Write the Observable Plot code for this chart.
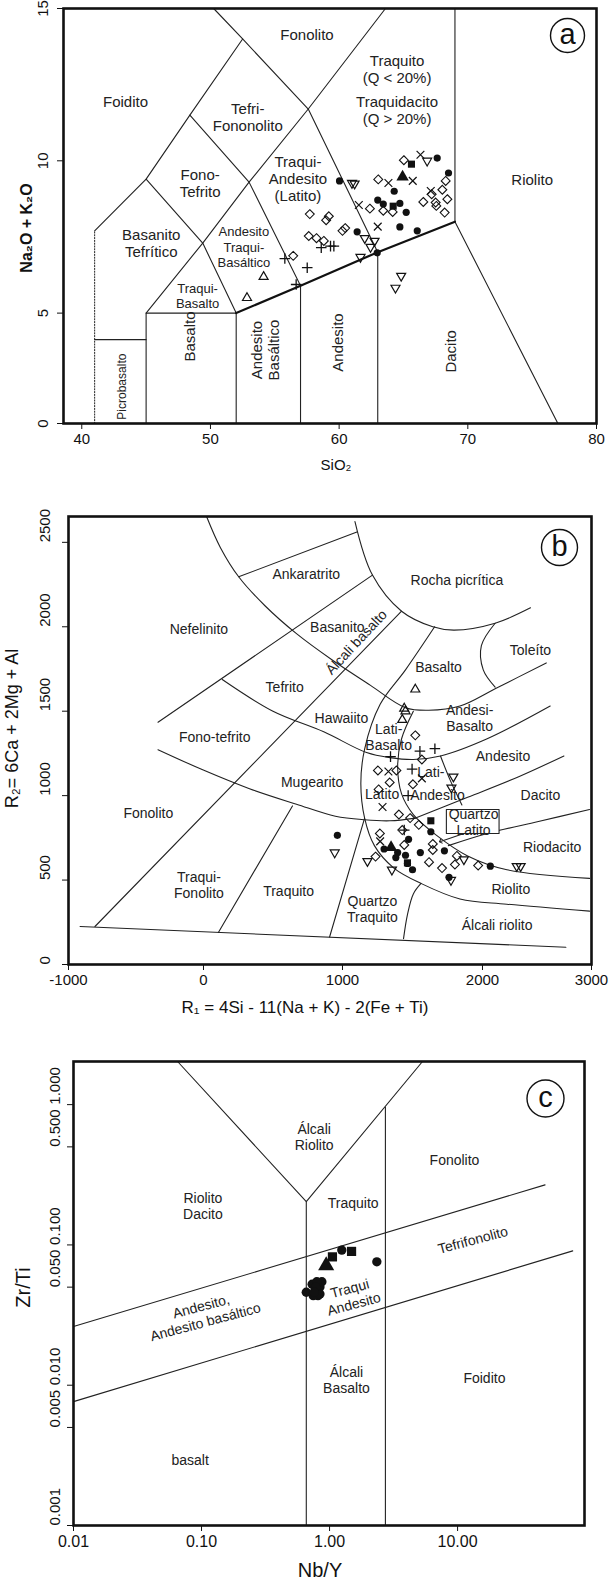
<!DOCTYPE html>
<html><head><meta charset="utf-8">
<script src="https://cdn.jsdelivr.net/npm/d3@7"></script>
<script src="https://cdn.jsdelivr.net/npm/@observablehq/plot@0.6"></script>
<style>
body{margin:0;background:#fff;width:612px;}
#charts svg{display:block;}
</style></head><body><div id="charts"></div>
<script>
const FONT = "Liberation Sans, Arial, Helvetica, sans-serif";

// ---------- Panel a : TAS ----------
const tasXTicks = [40, 50, 60, 70, 80];
const tasYTicks = [0, 5, 10, 15];
const tasLines = [
  [[41,7.7],[45,9.4],[48.4,11.5],[52.5,14],[50.25,15]],
  [[45,5],[49.4,7.3],[53,9.3],[57.6,11.7],[63.6,15]],
  [[45,9.4],[49.4,7.3],[52,5]],
  [[48.4,11.5],[53,9.3],[57,5.9]],
  [[52.5,14],[57.6,11.7],[63,7]],
  [[45,0],[45,5],[52,5],[52,0]],
  [[41,3.8],[45,3.8]],
  [[57,0],[57,5.9]],
  [[63,0],[63,7]],
  [[77,0],[69,8],[69,15]]
];
const tasAlkaline = [[52,5],[57,5.9],[63,7],[69,8]];
const tasDotted = [[41,0],[41,7.7]];
const tasLabels = [
  ["Fonolito",57.5,14.15],["Foidito",43.4,11.95],["Traquito\n(Q < 20%)",64.5,13.0],
  ["Traquidacito\n(Q > 20%)",64.5,11.65],["Tefri-\nFononolito",52.9,11.44],["Fono-\nTefrito",49.2,9.27],
  ["Traqui-\nAndesito\n(Latito)",56.8,9.43],["Riolito",75.0,9.37],["Basanito\nTefrítico",45.4,7.3]
];
const tasLabelsSmall = [["Andesito\nTraqui-\nBasáltico",52.6,7.18],["Traqui-\nBasalto",49.0,5.58]];
const tasLabelsVertical = [["Basalto",48.4,3.94],["Andesito\nBasáltico",54.25,3.33],["Andesito",59.9,3.67],["Dacito",68.7,3.27]];
const tasLabelsVerticalSmall = [["Picrobasalto",43.1,1.67]];
const aFilledCircles = [[60.03,9.34],[67.62,10.09],[68.5,9.6],[64.28,9.0],[63.0,8.71],[63.43,8.58],[64.72,8.6],[65.21,8.31],[64.72,7.83],[66.07,7.7],[61.4,7.67],[62.96,6.98]];
const aSquares = [[65.62,9.89],[64.2,8.51]];
const aTriangles = [[64.93,9.47]];
const aDiamonds = [[65.03,10.02],[63.04,9.39],[57.72,8.25],[58.99,8.05],[59.2,8.18],[57.64,7.53],[58.24,7.46],[58.81,7.37],[60.26,7.7],[60.47,7.79],[56.43,6.88],[62.39,8.43],[63.43,8.36],[64.16,8.32],[68.28,9.34],[68.02,9.05],[68.41,8.74],[66.54,8.65],[67.19,8.9],[67.5,8.63],[67.55,8.52],[68.2,8.3]];
const aTimes = [[66.32,10.2],[65.72,9.34],[63.83,9.27],[61.53,8.55],[63.0,7.84],[67.12,9.01]];
const aPlus = [[58.61,7.15],[59.33,7.2],[59.59,7.2],[55.78,6.79],[57.52,6.49],[56.66,5.94]];
const aTriDown = [[61.0,9.27],[61.2,9.25],[66.84,10.0],[61.99,7.46],[62.75,7.37],[62.44,7.17],[61.66,6.84],[64.82,6.22],[64.38,5.83]];
const aTriUp = [[54.13,6.19],[52.84,5.5]];

// ---------- Panel b : R1-R2 ----------
const rXTicks = [-1000, 0, 1000, 2000, 3000];
const rYTicks = [0, 500, 1000, 1500, 2000, 2500];
const rLines = [
  [[-914,225],[2765,102]],
  [[22,2653],[121,2470],[253,2296],[444,2123],[669,1959],[921,1806],[1200,1653],[1450,1521],[1617,1506],[1839,1531],[2116,1633],[2585,1786]],
  [[253,2296],[1103,2561]],
  [[1089,2623],[1214,2306],[1422,2092],[1645,2000],[1797,1980],[2116,2021],[2440,2112]],
  [[2116,2021],[1992,1888],[2007,1745],[2116,1643]],
  [[-337,1435],[1214,2306]],
  [[-804,225],[1422,2092]],
  [[1658,2000],[1450,1745],[1269,1541],[1158,1276],[1131,1072],[1158,867],[1228,704],[1367,571],[1561,480],[1839,388],[2224,357],[2982,316]],
  [[1506,1500],[1422,1337],[1394,1174],[1422,1010],[1506,888],[1672,765],[1894,643],[2224,561],[2982,510]],
  [[135,1688],[500,1500],[865,1378],[1172,1255],[1339,1225],[1506,1214],[1700,1235],[2043,1337],[2621,1531]],
  [[-337,1272],[-6,1153],[331,1041],[669,949],[949,878],[1158,857],[1339,851],[1522,867]],
  [[1700,1235],[1769,1092],[1853,945]],
  [[1522,867],[1894,990],[2332,1112],[2747,1235]],
  [[1756,704],[2043,776],[2513,847],[2982,918]],
  [[107,190],[640,939]],
  [[907,163],[1158,867]],
  [[1436,153],[1464,296],[1506,418],[1561,480]]
];
const rBox = [[1742,776],[2152,776],[2152,918],[1742,918],[1742,776]];
const rArrow = [[1867,776],[1700,729]];
const rLabels = [
  ["Ankaratrito",739,2312],["Rocha picrítica",1817,2276],["Nefelinito",-34,1990],["Basanito",963,2000],
  ["Toleíto",2440,1863],["Basalto",1686,1761],["Tefrito",584,1643],["Hawaiito",992,1459],
  ["Andesi-\nBasalto",1908,1462],["Fono-tefrito",81,1347],["Lati-\nBasalto",1330,1347],["Andesito",2188,1235],
  ["Lati-",1631,1143],["Mugearito",781,1082],["Latito",1283,1010],["Andesito",1678,1004],["Dacito",2531,1004],
  ["Fonolito",-409,898],["Quartzo\nLatito",1936,845],["Riodacito",2639,694],["Traqui-\nFonolito",-34,470],
  ["Traquito",612,435],["Riolito",2260,449],["Quartzo\nTraquito",1214,332],["Álcali riolito",2134,235]
];
const rLabelsRotated = [["Álcali basalto",1100,1908]];
const bFilledCircles = [[963,765],[1297,684],[1394,663],[1472,741],[1381,633],[1450,647],[1464,598],[1500,561],[1556,663],[1631,786],[1728,673],[1761,516],[2072,582]];
const bSquares = [[1631,851],[1464,602]];
const bTriangles = [[1347,694]];
const bTriDown = [[944,663],[1178,612],[1353,561],[1775,500],[1778,1047],[1792,1112],[1867,622],[2314,582],[2350,582]];
const bTriUp = [[1520,1629],[1441,1516],[1450,1500],[1427,1449]];
const bDiamonds = [[1520,1357],[1567,1214],[1253,1149],[1385,1149],[1337,1078],[1503,1067],[1258,1037],[1403,888],[1483,867],[1545,827],[1267,776],[1427,796],[1441,708],[1645,678],[1645,714],[1236,639],[1618,606],[1711,571],[1803,592],[1969,586],[1817,643]];
const bTimes = [[1286,933],[1328,1143],[1567,1102],[1269,729]];
const bPlus = [[1343,1231],[1553,1263],[1660,1278],[1497,1157],[1469,1000],[1441,796]];

// ---------- Panel c : Zr/Ti vs Nb/Y ----------
const wXTicks = [0.01, 0.1, 1, 10];
const wYTicks = [0.001, 0.005, 0.01, 0.05, 0.1, 0.5, 1];
const wLines = [
  [[0.065,2.03],[0.658,0.2033],[5.32,2.03]],
  [[0.658,0.2033],[0.658,0.001]],
  [[2.73,0.961],[2.73,0.001]],
  [[0.01,0.0262],[48.2,0.268]],
  [[0.01,0.00764],[79.3,0.0907]]
];
const wLabels = [
  ["Álcali\nRiolito",0.758,0.593],["Fonolito",9.46,0.405],["Riolito\nDacito",0.1026,0.19],
  ["Traquito",1.528,0.198],["Álcali\nBasalto",1.355,0.011],["Foidito",16.2,0.0112],["basalt",0.0815,0.00292]
];
const wLabelsRotated = [["Tefrifonolito",13.15,0.109],["Andesito,\nAndesito basáltico",0.103,0.0323],["Traqui\nAndesito",1.49,0.0433]];
const cCircles = [[1.246,0.0919],[2.34,0.0758],[0.658,0.046],[0.731,0.0524],[0.773,0.0479],[0.812,0.0435],[0.841,0.0501],[0.871,0.0546],[0.746,0.0435],[0.795,0.0546],[0.841,0.0447],[0.78,0.05],[0.76,0.046]];
const cSquares = [[1.053,0.0822],[1.485,0.0899]];
const cTriangles = [[0.941,0.0712]];

// ---------- helpers ----------
const rows = lines => lines.flatMap((pts,i)=>pts.map(([x,y])=>({x,y,id:i})));
const triDown = {draw(ctx,size){const s=Math.sqrt(size)*0.6824,t=s/2,u=s*Math.sqrt(3)/2;ctx.moveTo(0,s);ctx.lineTo(u,-t);ctx.lineTo(-u,-t);ctx.closePath();}};
const X = d=>d[0], Y = d=>d[1];
const lab = (arr, o) => Plot.text(arr, {x: d=>d[1], y: d=>d[2], text: d=>d[0], fill: "#222", ...o});
function symbols(s, k = 1) {
  return [
    Plot.dot(s.diamonds || [], {x: X, y: Y, symbol: "diamond2", r: 4*k, stroke: "#111", fill: "none", strokeWidth: 1.1}),
    Plot.dot(s.times || [], {x: X, y: Y, symbol: "times", r: 3.6*k, stroke: "#111", strokeWidth: 1.2}),
    Plot.dot(s.plus || [], {x: X, y: Y, symbol: "plus", r: 3.5*k, stroke: "#111", strokeWidth: 1.3}),
    Plot.dot(s.triDown || [], {x: X, y: Y, symbol: triDown, r: 4.3*k, stroke: "#111", fill: "none", strokeWidth: 1.2}),
    Plot.dot(s.triUp || [], {x: X, y: Y, symbol: "triangle2", r: 4.3*k, stroke: "#111", fill: "none", strokeWidth: 1.2}),
    Plot.dot(s.circles || [], {x: X, y: Y, symbol: "circle", r: 3.6*k, fill: "#111", stroke: "none"}),
    Plot.dot(s.squares || [], {x: X, y: Y, symbol: "square", r: 4*k, fill: "#111", stroke: "none"}),
    Plot.dot(s.triangles || [], {x: X, y: Y, symbol: "triangle", r: 4.6*k, fill: "#111", stroke: "none"})
  ];
}
const badge = (letter, dx, dy, r) => [
  Plot.dot([0], {frameAnchor: "top-right", dx, dy, r, stroke: "#111", fill: "white", strokeWidth: 1.4}),
  Plot.text([letter], {frameAnchor: "top-right", dx, dy: dy - 1, text: d=>d, fontSize: 29, fill: "#111", textAnchor: "middle", lineAnchor: "middle"})
];
const yTickText = (ticks, fmt, dx, fontSize, textAnchor = "middle") =>
  Plot.text(ticks, {y: d=>d, text: fmt, frameAnchor: "left", dx, rotate: -90, textAnchor, lineAnchor: "middle", fontSize, fill: "#111"});
const title = (t, o) => Plot.text([t], {text: d=>d, textAnchor: "middle", lineAnchor: "middle", fill: "#111", ...o});
const style = {fontFamily: FONT, fontSize: "15px", color: "#111", background: "white", overflow: "visible"};
const noLabel = () => "";

// piecewise axes of the original figure (applied to data; axis ticks are placed in the warped space)
const tasYWarp = d3.scaleLinear([0, 5, 15], [0, 3.99, 15]);
const rXWarp = d3.scaleLinear(rXTicks, [-1000, 32.5, 1095.6, 2166.3, 3000]);

// ---------- Panel a ----------
const plotA = Plot.plot({
  width: 612, height: 485, marginLeft: 63, marginRight: 16, marginTop: 8, marginBottom: 62,
  style,
  x: {domain: [38.58, 80], ticks: tasXTicks, tickFormat: d=>String(d), label: null, tickSize: 6, tickPadding: 4},
  y: {domain: [0, 15], transform: tasYWarp, ticks: tasYTicks.map(tasYWarp), tickFormat: noLabel, label: null, tickSize: 6},
  marks: [
    Plot.line(rows(tasLines), {x: "x", y: "y", z: "id", stroke: "#222", strokeWidth: 1.1}),
    Plot.line(tasAlkaline, {x: X, y: Y, stroke: "#111", strokeWidth: 2.2}),
    Plot.line(tasDotted, {x: X, y: Y, stroke: "#222", strokeWidth: 1, strokeDasharray: "1.2,1.6"}),
    lab(tasLabels, {fontSize: 15, lineHeight: 1.13}),
    lab(tasLabelsSmall, {fontSize: 13, lineHeight: 1.18}),
    lab(tasLabelsVertical, {fontSize: 15, rotate: -90, lineHeight: 1.1}),
    lab(tasLabelsVerticalSmall, {fontSize: 12, rotate: -90}),
    ...symbols({circles: aFilledCircles, squares: aSquares, triangles: aTriangles, diamonds: aDiamonds, times: aTimes, plus: aPlus, triDown: aTriDown, triUp: aTriUp}),
    Plot.frame({stroke: "#111", strokeWidth: 2.6}),
    yTickText(tasYTicks, d=>String(d), -20, 15),
    ...badge("a", -29, 27, 17),
    title("Na₂O + K₂O", {frameAnchor: "left", dx: -37, dy: 12, rotate: -90, fontSize: 16, fontWeight: "bold"}),
    title("SiO₂", {frameAnchor: "bottom", dx: 6, dy: 42, fontSize: 15})
  ]
});

// ---------- Panel b ----------
const plotB = Plot.plot({
  width: 612, height: 555, marginLeft: 68, marginRight: 21, marginTop: 31, marginBottom: 76,
  style,
  x: {domain: [-1000, 3000], transform: rXWarp, ticks: rXTicks.map(rXWarp), tickFormat: d=>String(Math.round(rXWarp.invert(d))), label: null, tickSize: 6, tickPadding: 4},
  y: {domain: [0, 2653], ticks: rYTicks, tickFormat: noLabel, label: null, tickSize: 6},
  marks: [
    Plot.line(rows(rLines), {x: "x", y: "y", z: "id", stroke: "#222", strokeWidth: 1.1, curve: "catmull-rom"}),
    Plot.line(rBox, {x: X, y: Y, fill: "white", stroke: "#222", strokeWidth: 1.1}),
    Plot.line(rArrow, {x: X, y: Y, stroke: "#222", strokeWidth: 1.1, markerEnd: "arrow"}),
    lab(rLabels, {fontSize: 14, lineHeight: 1.15}),
    lab(rLabelsRotated, {fontSize: 14, rotate: -47}),
    ...symbols({circles: bFilledCircles, squares: bSquares, triangles: bTriangles, diamonds: bDiamonds, times: bTimes, plus: bPlus, triDown: bTriDown, triUp: bTriUp}),
    Plot.frame({stroke: "#111", strokeWidth: 2.6}),
    yTickText(rYTicks, d=>String(d), -23, 15, "start"),
    ...badge("b", -32, 31, 18),
    title("R₂= 6Ca + 2Mg + Al", {frameAnchor: "left", dx: -56, dy: -12, rotate: -90, fontSize: 18}),
    title("R₁ = 4Si - 11(Na + K) - 2(Fe + Ti)", {frameAnchor: "bottom", dx: -25, dy: 43, fontSize: 17})
  ]
});

// ---------- Panel c ----------
const plotC = Plot.plot({
  width: 612, height: 538, marginLeft: 73, marginRight: 28, marginTop: 21, marginBottom: 53,
  style: {...style, fontSize: "16px"},
  x: {type: "log", domain: [0.01, 98], ticks: wXTicks, tickFormat: d3.format(".2f"), label: null, tickSize: 6, tickPadding: 4},
  y: {type: "log", domain: [0.001, 2.03], ticks: wYTicks, tickFormat: noLabel, label: null, tickSize: 6},
  marks: [
    Plot.line(rows(wLines), {x: "x", y: "y", z: "id", stroke: "#222", strokeWidth: 1.1}),
    lab(wLabels, {fontSize: 14, lineHeight: 1.15}),
    lab(wLabelsRotated, {fontSize: 14, rotate: -15, lineHeight: 1.15}),
    ...symbols({circles: cCircles, squares: cSquares, triangles: cTriangles}, 1.3),
    Plot.frame({stroke: "#111", strokeWidth: 2.6}),
    yTickText(wYTicks, d3.format(".3f"), -18, 15, "start"),
    ...badge("c", -39, 37, 18.5),
    title("Zr/Ti", {frameAnchor: "left", dx: -50, dy: -6, rotate: -90, fontSize: 20}),
    title("Nb/Y", {frameAnchor: "bottom", dx: -9, dy: 45, fontSize: 20})
  ]
});

document.getElementById("charts").append(plotA, plotB, plotC);
</script></body></html>
